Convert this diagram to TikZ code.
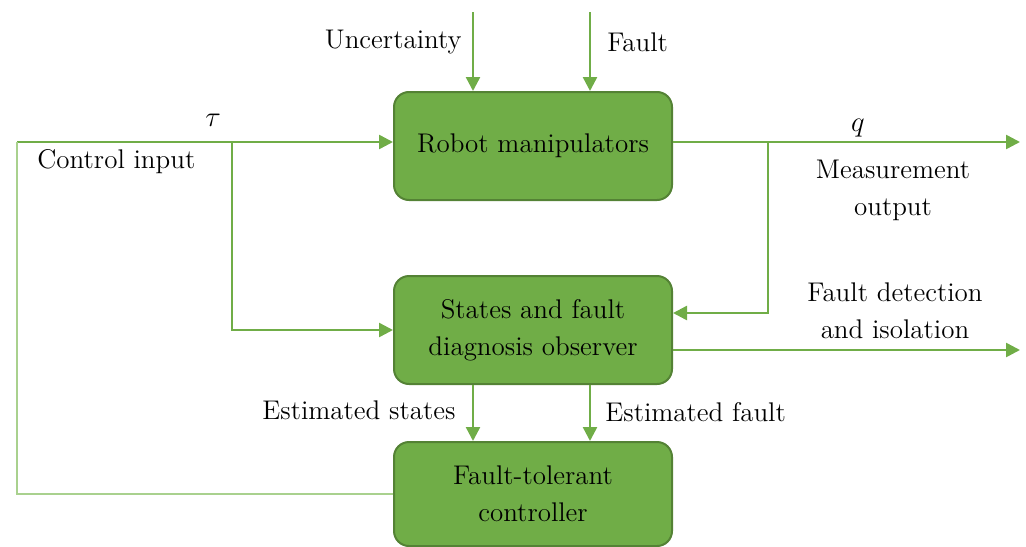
\documentclass[tikz,border=0pt]{standalone}
\usetikzlibrary{arrows.meta,positioning,calc}
\definecolor{boxfill}{HTML}{70AD47}
\definecolor{boxedge}{HTML}{548235}
\definecolor{wire}{HTML}{70AD47}
\definecolor{fbwire}{HTML}{A9D18E}
\tikzset{
  block/.style={draw=boxedge, line width=1pt, fill=boxfill, rounded corners=7.5pt,
    minimum width=139pt, minimum height=54pt, align=center, inner sep=2pt,
    font=\fontsize{13.5}{18.5}\selectfont},
  wireline/.style={draw=wire, line width=1.25pt},
  arr/.style={wireline, -{Triangle[length=7pt,width=7pt]}},
  fbline/.style={draw=fbwire, line width=0.9pt},
  lbl/.style={font=\fontsize{13.5}{18.5}\selectfont, inner sep=0pt, align=center}
}
\begin{document}
\begin{tikzpicture}[x=0.5pt,y=-0.5pt]
\useasboundingbox (0,0) rectangle (1026,546);

% blocks
\node[block] (robot)  at (533,146) {\raisebox{-2pt}{Robot manipulators}};
\node[block] (states) at (533,330) {States and fault\\diagnosis observer};
\node[block, minimum height=52pt] (ftc) at (533,494) {Fault-tolerant\\controller};

% free ends and branch points
\coordinate (uTop) at (473,12);
\coordinate (fTop) at (590,12);
\coordinate (cin)  at (17,142);
\coordinate (br)   at (232,142);
\coordinate (mb)   at (768,142);
\coordinate (out1) at (1020,142);
\coordinate (out2) at (1020,350);

% disturbances into the plant
\draw[arr] (uTop) -- (uTop |- robot.north);
\draw[arr] (fTop) -- (fTop |- robot.north);

% control input and its branch to the observer
\draw[arr] (cin) -- ([yshift=2pt]robot.west);
\draw[arr] (br) |- (states.west);

% feedback from the controller
\draw[fbline] (ftc.west) -| (cin);

% measurement output and its branch to the observer
\draw[arr] ([yshift=2pt]robot.east) -- (out1);
\draw[arr] (mb) |- ([yshift=8.5pt]states.east);

% fault detection and isolation output
\draw[arr] ([yshift=-10pt]states.east) -- (out2);

% estimates into the controller
\draw[arr] (states.south -| uTop) -- (ftc.north -| uTop);
\draw[arr] (states.south -| fTop) -- (ftc.north -| fTop);

% labels
\node[lbl, anchor=east] (lu) at (462,42) {Uncertainty};
\node[lbl, anchor=west] (lf) at (607,42) {Fault};
\node[lbl] (ltau) at (213,120) {$\tau$};
\node[lbl, anchor=west] (lci) at (37,162) {Control input};
\node[lbl] (lq) at (858,128) {$q$};
\node[lbl] (lmo) at (893,190) {Measurement\\output};
\node[lbl] (lfdi) at (895,311) {Fault detection\\and isolation};
\node[lbl, anchor=east] (les) at (456,410) {Estimated states};
\node[lbl, anchor=west] (lef) at (605,412) {Estimated fault};
\end{tikzpicture}
\end{document}
